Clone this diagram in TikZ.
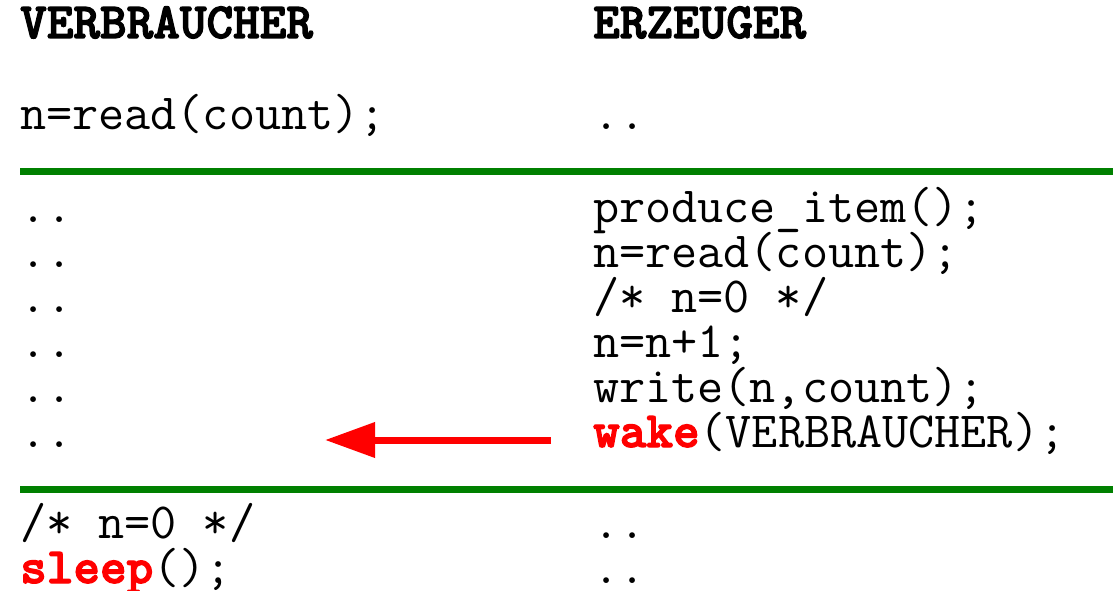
\documentclass[tikz,border=0pt]{standalone}
\usepackage{fontspec}
\usetikzlibrary{arrows.meta}
\newfontfamily\ttheavy{lmmonolt10-bold.otf}[FakeBold=2.5]

\definecolor{sepgreen}{RGB}{0,128,0}
\definecolor{sigred}{RGB}{255,0,0}

\newcommand{\kw}[1]{{\ttheavy\color{sigred}#1}}

\begin{document}
\begin{tikzpicture}[x=1pt,y=-1pt,
  code/.style={anchor=base west,inner sep=0pt,font=\fontsize{50.7}{52}\selectfont\ttfamily},
  title/.style={code,font=\fontsize{50.7}{52}\selectfont\ttheavy},
  sepline/.style={draw=sepgreen,line width=7pt},
  signal/.style={draw=sigred,line width=7pt,-{Triangle[length=50pt,width=34pt]}}]

\useasboundingbox (0,0) rectangle (1113,591);

% headings
\node[title] (cons) at (20,38) {VERBRAUCHER};
\node[title] (prod) at (593,38) {ERZEUGER};

\node[code] (c0) at (20,130) {n=read(count);};
\node[code] (p0) at (593,130) {..};

\coordinate (s1a) at (20,171.5);
\coordinate (s1b) at (1113,171.5);
\draw[sepline] (s1a) -- (s1b);

% consumer waits
\foreach \i/\y in {1/222,2/267,3/312,4/357,5/402,6/447}
  \node[code] (c\i) at (20,\y) {..};

% producer runs
\node[code] (p1) at (593,222) {produce\_item();};
\node[code] (p2) at (593,267) {n=read(count);};
\node[code] (p3) at (593,312) {/* n=0 */};
\node[code] (p4) at (593,357) {n=n+1;};
\node[code] (p5) at (593,402) {write(n,count);};
\node[code] (wake) at (593,447) {\kw{wake}(VERBRAUCHER);};

\coordinate (wa) at (551,440);
\coordinate (wb) at (325,440);
\draw[signal] (wa) -- (wb);

\coordinate (s2a) at (20,489);
\coordinate (s2b) at (1113,489);
\draw[sepline] (s2a) -- (s2b);

\node[code] (c7) at (20,538) {/* n=0 */};
\node[code] (sleep) at (20,583) {\kw{sleep}();};
\node[code] (p7) at (593,538) {..};
\node[code] (p8) at (593,583) {..};

\end{tikzpicture}
\end{document}
